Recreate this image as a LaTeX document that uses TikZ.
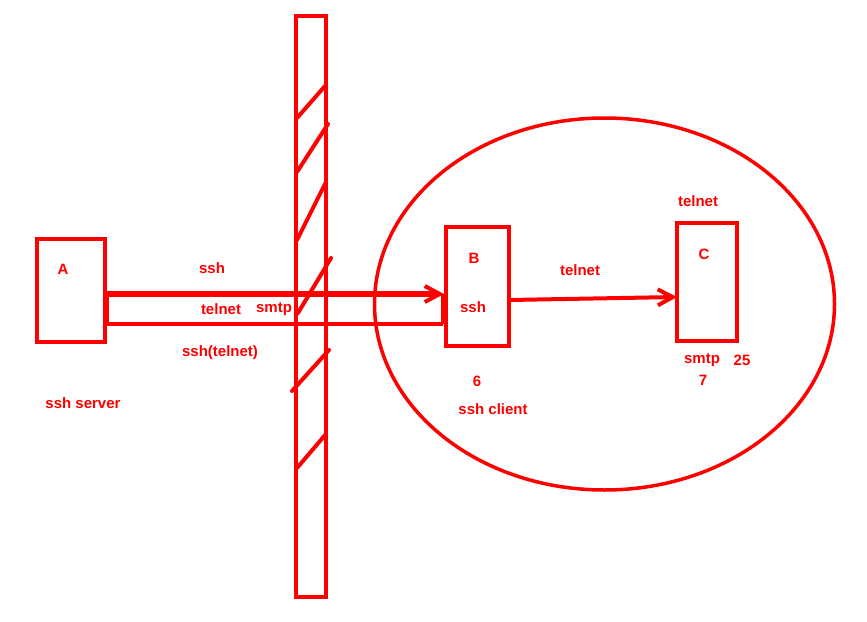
\documentclass[tikz,border=0pt]{standalone}
\usepackage{fontspec}
\setmainfont{Liberation Sans}
\usetikzlibrary{shapes.geometric,arrows.meta}
\definecolor{pen}{RGB}{255,0,0}
\tikzset{
  box/.style={draw=pen, line width=4pt, inner sep=0pt, fill=none},
  lbl/.style={text=pen, font=\fontsize{15}{18}\selectfont\bfseries, inner sep=0pt, anchor=center},
  hatch/.style={draw=pen, line width=4pt, line cap=round},
  tube/.style={draw=pen, line width=4pt},
  barb/.style={-{Straight Barb[length=15pt,width=16pt,line width=4pt]}},
}
\begin{document}
\begin{tikzpicture}[x=1pt,y=-1pt]
\useasboundingbox (0,0) rectangle (867,621);
% boxes
\node[box, minimum width=68pt, minimum height=103pt] (A) at (71,290.5) {};
\node[box, minimum width=30pt, minimum height=581pt] (W) at (311,306.5) {};
\node[box, minimum width=63pt, minimum height=119pt] (B) at (477.5,286.5) {};
\node[box, minimum width=60pt, minimum height=118pt] (C) at (707,282) {};
\node[ellipse, draw=pen, line width=3.5pt, minimum width=460pt, minimum height=372pt, inner sep=0pt] (E) at (604.5,304) {};
% hatches
\draw[hatch] (297,118) -- (325,86);
\draw[hatch] (297,172) -- (328,124);
\draw[hatch] (297,240) -- (326,182);
\draw[hatch] (298,313) -- (331,258);
\draw[hatch] (292,391) -- (329,350);
\draw[hatch] (297,468) -- (326,434);
% tube
\coordinate (t1) at (107,294);
\coordinate (t2) at (107,324);
\coordinate (t3) at (443,294);
\coordinate (t4) at (443,324);
\draw[tube] (t1) -- (t2);
\draw[tube] (t2) -- (t4);
\draw[tube, line width=5pt] (t3) -- (t4);
\draw[draw=pen, line width=6pt, barb] (t1) -- (B.west |- t1);
% B to C
\coordinate (bc) at (509,300);
\coordinate (cc) at (677,297);
\draw[draw=pen, line width=4pt, barb] (bc) -- (cc);
% labels
\node[lbl] (lA) at (63,269) {A};
\node[lbl] (l1) at (212,268) {ssh};
\node[lbl] (l2) at (221,309) {telnet};
\node[lbl] (l3) at (274,309) {smtp};
\node[lbl] (l4) at (220,353) {ssh(telnet)};
\node[lbl] (l5) at (83,403) {ssh server};
\node[lbl] (lB) at (474,258) {B};
\node[lbl] (l6) at (473,307) {ssh};
\node[lbl] (l7) at (580,270) {telnet};
\node[lbl] (l8) at (698,201) {telnet};
\node[lbl] (lC) at (704,254) {C};
\node[lbl] (l9) at (702,360) {smtp};
\node[lbl] (l10) at (742,360) {25};
\node[lbl] (l11) at (703,380) {7};
\node[lbl] (l12) at (477,381) {6};
\node[lbl] (l13) at (493,409) {ssh client};
\end{tikzpicture}
\end{document}
